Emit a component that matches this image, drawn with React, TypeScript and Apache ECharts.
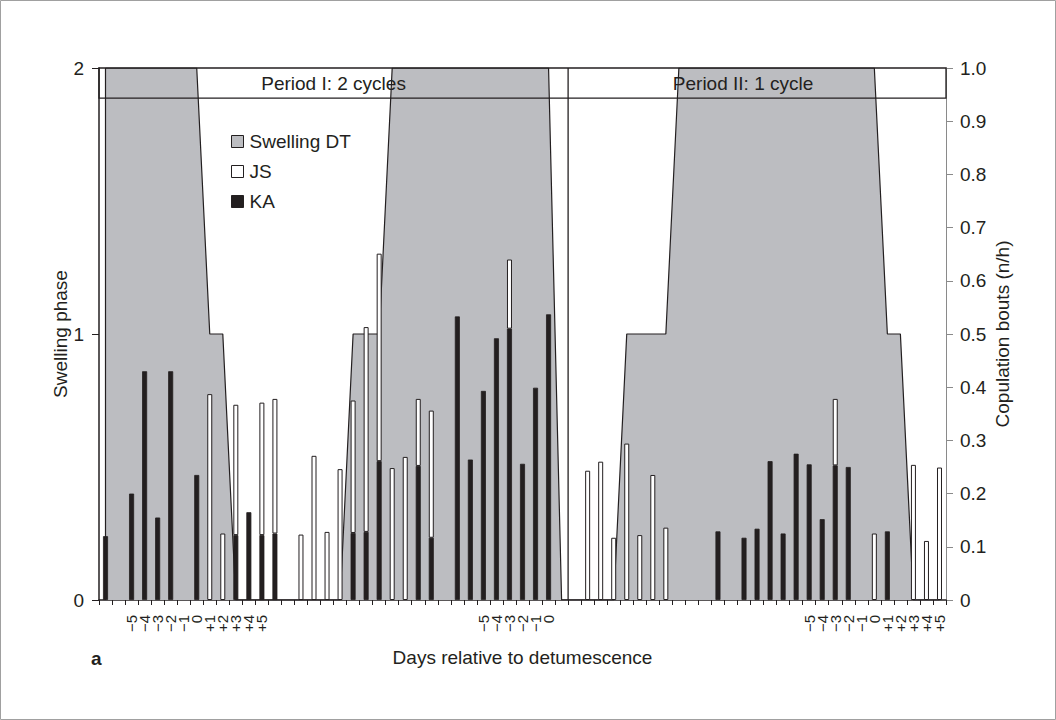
import React, { useEffect, useRef } from "react";
import * as echarts from "echarts";

// 65 observation days (categories), in order
const dayIds: string[] = Array.from({ length: 65 }, (_, i) => String(i));

const xTickLabels: string[] = [
  "", "", "−5", "−4", "−3", "−2", "−1", "0", "+1", "+2", "+3", "+4", "+5",
  "", "", "", "", "", "", "", "", "", "", "", "", "", "", "", "",
  "−5", "−4", "−3", "−2", "−1", "0",
  "", "", "", "", "", "", "", "", "", "", "", "", "", "", "", "", "", "", "",
  "−5", "−4", "−3", "−2", "−1", "0", "+1", "+2", "+3", "+4", "+5",
];

// Swelling phase (left axis, 0..2)
const swelling: number[] = [
  2, 2, 2, 2, 2, 2, 2, 2, 1, 1,
  0, 0, 0, 0, 0, 0, 0, 0, 0, 1,
  1, 1, 2, 2, 2, 2, 2, 2, 2, 2,
  2, 2, 2, 2, 2, 0, 0, 0, 0, 0,
  1, 1, 1, 1, 2, 2, 2, 2, 2, 2,
  2, 2, 2, 2, 2, 2, 2, 2, 2, 2,
  1, 1, 0, 0, 0,
];

// Copulation bouts (n/h), KA (black, bottom of stack)
const kaBouts: number[] = [
  0.12, 0, 0.2, 0.43, 0.155, 0.43, 0, 0.235, 0, 0,
  0.122, 0.165, 0.122, 0.125, 0, 0, 0, 0, 0, 0.126,
  0.128, 0.261, 0, 0, 0.252, 0.117, 0, 0.533, 0.264, 0.393,
  0.492, 0.51, 0.256, 0.399, 0.537, 0, 0, 0, 0, 0,
  0, 0, 0, 0, 0, 0, 0, 0.129, 0, 0.117,
  0.134, 0.261, 0.125, 0.275, 0.255, 0.152, 0.253, 0.25, 0, 0,
  0.129, 0, 0, 0, 0,
];

// Copulation bouts (n/h), JS (white, stacked on KA)
const jsBouts: number[] = [
  0, 0, 0, 0, 0, 0, 0, 0, 0.387, 0.125,
  0.245, 0, 0.249, 0.253, 0, 0.123, 0.271, 0.128, 0.246, 0.249,
  0.385, 0.39, 0.248, 0.269, 0.126, 0.239, 0, 0, 0, 0,
  0, 0.13, 0, 0, 0, 0, 0, 0.243, 0.26, 0.117,
  0.294, 0.122, 0.235, 0.136, 0, 0, 0, 0, 0, 0,
  0, 0, 0, 0, 0, 0, 0.125, 0, 0, 0.125,
  0, 0, 0.254, 0.111, 0.249,
];

const rightTicks: number[] = [0, 0.1, 0.2, 0.3, 0.4, 0.5, 0.6, 0.7, 0.8, 0.9, 1.0];

const periodLabels: string[] = ["Period I: 2 cycles", "Period II: 1 cycle"];
const periodDividerAfter = 35; // divider lies between day 35 and day 36
const headerBandValue = 1.887; // lower edge of the header band, left axis units

const INK = "#231f20";
const GREY = "#bcbdc1";
const FONT = "Liberation Sans, Arial, Helvetica, sans-serif";
const FS = 19;

export default function App() {
  const ref = useRef<HTMLDivElement>(null);

  useEffect(() => {
    document.body.style.margin = "0";
    if (!ref.current) return;
    const chart = echarts.init(ref.current, undefined, { renderer: "svg" });

    const option: any = {
      animation: false,
      backgroundColor: "#ffffff",
      textStyle: { fontFamily: FONT, color: INK },
      grid: { left: 99, right: 110, top: 68, bottom: 120, containLabel: false },
      legend: {
        orient: "vertical",
        left: 231,
        top: 132,
        padding: 0,
        itemWidth: 12,
        itemHeight: 12,
        itemGap: 11,
        textStyle: { fontSize: FS, color: INK, fontFamily: FONT, padding: [0, 0, 0, 1] },
        data: [
          { name: "Swelling DT", icon: "rect", itemStyle: { color: GREY, borderColor: INK, borderWidth: 1 } },
          { name: "JS", icon: "rect", itemStyle: { color: "#ffffff", borderColor: INK, borderWidth: 1 } },
          { name: "KA", icon: "rect", itemStyle: { color: INK, borderColor: INK, borderWidth: 1 } },
        ],
      },
      xAxis: {
        type: "category",
        data: dayIds,
        boundaryGap: true,
        name: "Days relative to detumescence",
        nameLocation: "middle",
        nameGap: 48,
        nameMoveOverlap: false,
        nameTextStyle: { fontSize: FS, color: INK, fontFamily: FONT },
        axisLine: { show: true, lineStyle: { color: INK, width: 1.5 } },
        axisTick: { show: true, interval: 0, length: 5, alignWithLabel: false, lineStyle: { color: INK } },
        axisLabel: {
          interval: 0,
          rotate: 90,
          margin: 15,
          fontSize: 15,
          color: INK,
          fontFamily: FONT,
          formatter: (_v: string, idx: number) => xTickLabels[idx] || "",
        },
        splitLine: { show: false },
      },
      yAxis: [
        {
          type: "value",
          min: 0,
          max: 2,
          interval: 1,
          position: "left",
          name: "Swelling phase",
          nameLocation: "middle",
          nameRotate: 90,
          nameGap: 29,
          nameMoveOverlap: false,
          nameTextStyle: { fontSize: FS, color: INK, fontFamily: FONT },
          axisLine: { show: true, lineStyle: { color: INK, width: 1.5 } },
          axisTick: { show: true, length: 7, lineStyle: { color: INK } },
          axisLabel: { margin: 15, fontSize: FS, color: INK, fontFamily: FONT },
          splitLine: { show: false },
        },
        {
          type: "value",
          min: 0,
          max: 1,
          interval: 0.1,
          position: "right",
          name: "Copulation bouts (n/h)",
          nameLocation: "middle",
          nameRotate: 90,
          nameGap: 47,
          nameMoveOverlap: false,
          nameTextStyle: { fontSize: FS, color: INK, fontFamily: FONT },
          axisLine: { show: true, lineStyle: { color: "#8a8a8a", width: 1 } },
          axisTick: { show: true, length: 7, lineStyle: { color: "#8a8a8a" } },
          axisLabel: {
            margin: 14,
            fontSize: FS,
            color: INK,
            fontFamily: FONT,
            formatter: (v: number) => {
              const t = rightTicks.find((r) => Math.abs(r - v) < 1e-6);
              const val = t === undefined ? v : t;
              return val === 0 ? "0" : val.toFixed(1);
            },
          },
          splitLine: { show: false },
        },
      ],
      series: [
        {
          name: "Swelling DT",
          type: "line",
          yAxisIndex: 0,
          data: swelling,
          symbol: "none",
          showSymbol: false,
          itemStyle: { color: GREY },
          lineStyle: { color: INK, width: 1.2 },
          areaStyle: { color: GREY, opacity: 1 },
          z: 1,
          markLine: {
            silent: true,
            symbol: "none",
            label: { show: false },
            lineStyle: { color: INK, type: "solid", width: 1.2 },
            data: [{ xAxis: 0 }],
          },
        },
        {
          name: "KA",
          type: "bar",
          yAxisIndex: 1,
          stack: "bouts",
          barWidth: 5,
          data: kaBouts.map((v) => (v > 0 ? v : null)),
          itemStyle: { color: INK, borderColor: INK, borderWidth: 0.8 },
          z: 3,
        },
        {
          name: "JS",
          type: "bar",
          yAxisIndex: 1,
          stack: "bouts",
          barWidth: 5,
          data: jsBouts.map((v) => (v > 0 ? v : null)),
          itemStyle: { color: "#ffffff", borderColor: INK, borderWidth: 1 },
          z: 3,
        },
      ],
    };

    chart.setOption(option);

    // Decorations placed with the chart's own scales
    const yTop = chart.convertToPixel({ yAxisIndex: 0 }, 2) as number;
    const yBottom = chart.convertToPixel({ yAxisIndex: 0 }, 0) as number;
    const yBand = chart.convertToPixel({ yAxisIndex: 0 }, headerBandValue) as number;
    const xA = chart.convertToPixel({ xAxisIndex: 0 }, dayIds[periodDividerAfter]) as number;
    const xB = chart.convertToPixel({ xAxisIndex: 0 }, dayIds[periodDividerAfter + 1]) as number;
    const xDiv = (xA + xB) / 2;
    const x0 = chart.convertToPixel({ xAxisIndex: 0 }, dayIds[0]) as number;
    const x1 = chart.convertToPixel({ xAxisIndex: 0 }, dayIds[dayIds.length - 1]) as number;
    const step = (x1 - x0) / (dayIds.length - 1);
    const xLeft = x0 - step / 2;
    const xRight = x1 + step / 2;

    chart.setOption({
      graphic: [
        {
          type: "rect",
          silent: true,
          z: 100,
          shape: { x: 0.5, y: 0.5, width: 1055, height: 719 },
          style: { fill: "none", stroke: "#a0a0a0", lineWidth: 1 },
        },
        {
          type: "rect",
          silent: true,
          z: 100,
          shape: { x: xLeft, y: yTop, width: xRight - xLeft, height: yBand - yTop },
          style: { fill: "none", stroke: INK, lineWidth: 1.3 },
        },
        {
          type: "line",
          silent: true,
          z: 100,
          shape: { x1: xDiv, y1: yTop, x2: xDiv, y2: yBottom },
          style: { stroke: INK, lineWidth: 1.3 },
        },
        {
          type: "text",
          silent: true,
          z: 101,
          x: (xLeft + xDiv) / 2,
          y: (yTop + yBand) / 2,
          style: {
            text: periodLabels[0],
            fontSize: FS,
            fontFamily: FONT,
            fill: INK,
            align: "center",
            verticalAlign: "middle",
          },
        },
        {
          type: "text",
          silent: true,
          z: 101,
          x: (xDiv + xRight) / 2 - 14,
          y: (yTop + yBand) / 2,
          style: {
            text: periodLabels[1],
            fontSize: FS,
            fontFamily: FONT,
            fill: INK,
            align: "center",
            verticalAlign: "middle",
          },
        },
        {
          type: "text",
          silent: true,
          z: 101,
          x: 91,
          y: 658,
          style: {
            text: "a",
            fontSize: FS,
            fontWeight: "bold",
            fontFamily: FONT,
            fill: INK,
            align: "left",
            verticalAlign: "middle",
          },
        },
      ],
    });

    return () => {
      chart.dispose();
    };
  }, []);

  return <div ref={ref} style={{ width: 1056, height: 720 }} />;
}
